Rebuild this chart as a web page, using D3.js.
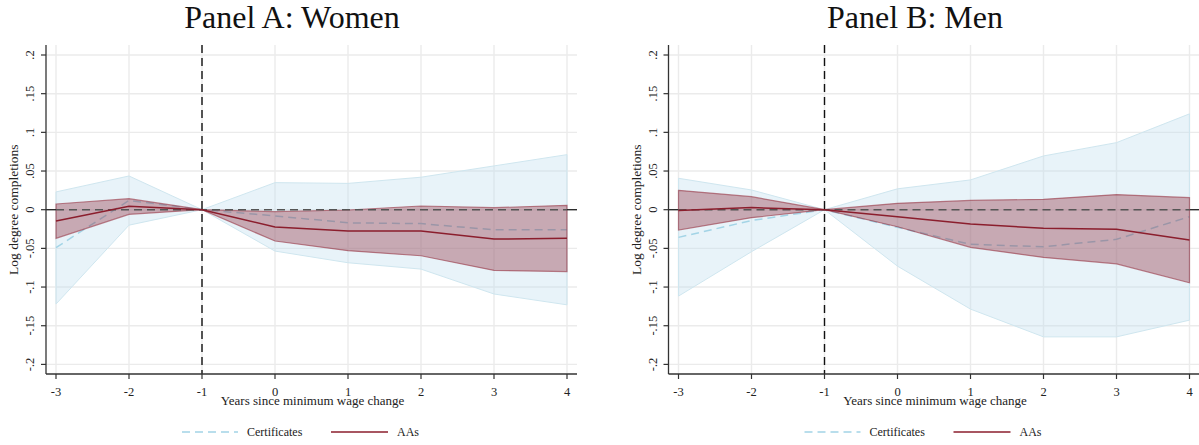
<!DOCTYPE html>
<html>
<head>
<meta charset="utf-8">
<script src="https://cdn.jsdelivr.net/npm/d3@7"></script>
<style>
  body { margin: 0; background: #fff; }
  svg { display: block; }
</style>
</head>
<body>
<div id="chart"></div>
<script>
// Event-time values.
const years = [-3, -2, -1, 0, 1, 2, 3, 4];
const yTicks = [-0.2, -0.15, -0.1, -0.05, 0, 0.05, 0.1, 0.15, 0.2];
const yTickLabels = ["-.2", "-.15", "-.1", "-.05", "0", ".05", ".1", ".15", ".2"];
const panelTitles = ["Panel A: Women", "Panel B: Men"];
const seriesNames = ["Certificates", "AAs"];

// Panel A: Women
const womenCertEst = [-0.049, 0.012, 0, -0.008, -0.017, -0.018, -0.026, -0.026];
const womenCertLo = [-0.122, -0.020, 0, -0.0535, -0.0686, -0.0768, -0.109, -0.123];
const womenCertHi = [0.023, 0.0436, 0, 0.035, 0.034, 0.042, 0.0566, 0.0712];
const womenAAEst = [-0.0146, 0.0044, 0, -0.0224, -0.0276, -0.0276, -0.038, -0.037];
const womenAALo = [-0.037, -0.006, 0, -0.0405, -0.053, -0.0595, -0.0785, -0.080];
const womenAAHi = [0.0074, 0.0143, 0, -0.0026, -0.0004, 0.0048, 0.0026, 0.0057];

// Panel B: Men
const menCertEst = [-0.0358, -0.014, 0, -0.0228, -0.0448, -0.0479, -0.0383, -0.009];
const menCertLo = [-0.1117, -0.0543, 0, -0.073, -0.1285, -0.1644, -0.1644, -0.1428];
const menCertHi = [0.0406, 0.0255, 0, 0.027, 0.0385, 0.0695, 0.0867, 0.1239];
const menAAEst = [-0.001, 0.0027, 0, -0.009, -0.0185, -0.024, -0.0254, -0.0392];
const menAALo = [-0.0263, -0.0103, 0, -0.022, -0.0487, -0.0617, -0.07, -0.0945];
const menAAHi = [0.025, 0.0168, 0, 0.0083, 0.012, 0.0134, 0.0195, 0.0156];

const width = 1199;
const height = 445;
const font = "'Liberation Serif', 'Times New Roman', serif";

const svg = d3.select("#chart")
  .append("svg")
  .attr("width", width)
  .attr("height", height)
  .attr("font-family", font);

/**
 * Draws one event-study panel.
 */
function drawPanel(offset, title, cert, aa, titleX) {
  const axisX = 46 + offset;
  const plotRight = 577 + offset;
  const plotTop = 45;
  const plotBottom = 374;

  const x = d3.scaleLinear().domain([-3, 4]).range([56 + offset, 567 + offset]);
  const y = d3.scaleLinear().domain([-0.2, 0.2]).range([364.4, 55]);

  const g = svg.append("g");

  // Grid lines.
  g.selectAll(".hgrid")
    .data(yTicks)
    .join("line")
    .attr("x1", axisX).attr("x2", plotRight)
    .attr("y1", (d) => y(d)).attr("y2", (d) => y(d))
    .attr("stroke", "#ebebeb").attr("stroke-width", 1.4);
  g.selectAll(".vgrid")
    .data(years)
    .join("line")
    .attr("x1", (d) => x(d)).attr("x2", (d) => x(d))
    .attr("y1", plotTop).attr("y2", plotBottom)
    .attr("stroke", "#ebebeb").attr("stroke-width", 1.4);

  const rows = years.map((yr, i) => ({
    yr,
    cEst: cert.est[i], cLo: cert.lo[i], cHi: cert.hi[i],
    aEst: aa.est[i], aLo: aa.lo[i], aHi: aa.hi[i],
  }));

  // Certificates band and line.
  g.append("path")
    .datum(rows)
    .attr("d", d3.area().x((d) => x(d.yr)).y0((d) => y(d.cLo)).y1((d) => y(d.cHi)))
    .attr("fill", "rgba(190,222,238,0.35)")
    .attr("stroke", "#cfe6ef")
    .attr("stroke-width", 1);
  g.append("path")
    .datum(rows)
    .attr("d", d3.line().x((d) => x(d.yr)).y((d) => y(d.cEst)))
    .attr("fill", "none")
    .attr("stroke", "#a3d4e6")
    .attr("stroke-width", 1.5)
    .attr("stroke-dasharray", "8,5");

  // AAs band and line.
  g.append("path")
    .datum(rows)
    .attr("d", d3.area().x((d) => x(d.yr)).y0((d) => y(d.aLo)).y1((d) => y(d.aHi)))
    .attr("fill", "rgba(140,40,55,0.36)")
    .attr("stroke", "rgba(150,50,65,0.6)")
    .attr("stroke-width", 1.2);

  // Zero line: solid outside the data range, dashed inside.
  g.append("line")
    .attr("x1", axisX).attr("x2", x(-3))
    .attr("y1", y(0)).attr("y2", y(0))
    .attr("stroke", "#222").attr("stroke-width", 1.3);
  g.append("line")
    .attr("x1", x(4)).attr("x2", plotRight)
    .attr("y1", y(0)).attr("y2", y(0))
    .attr("stroke", "#222").attr("stroke-width", 1.3);
  g.append("line")
    .attr("x1", x(-3)).attr("x2", x(4))
    .attr("y1", y(0)).attr("y2", y(0))
    .attr("stroke", "#555").attr("stroke-width", 1.4)
    .attr("stroke-dasharray", "8,5");

  g.append("path")
    .datum(rows)
    .attr("d", d3.line().x((d) => x(d.yr)).y((d) => y(d.aEst)))
    .attr("fill", "none")
    .attr("stroke", "#8b1e2d")
    .attr("stroke-width", 1.5);

  // Vertical reference line at -1.
  g.append("line")
    .attr("x1", x(-1)).attr("x2", x(-1))
    .attr("y1", plotTop).attr("y2", plotBottom)
    .attr("stroke", "#111").attr("stroke-width", 1.4)
    .attr("stroke-dasharray", "8,5");

  // Axes.
  g.append("line")
    .attr("x1", axisX).attr("x2", axisX)
    .attr("y1", plotTop).attr("y2", plotBottom)
    .attr("stroke", "#333").attr("stroke-width", 1.3);
  g.append("line")
    .attr("x1", axisX).attr("x2", plotRight)
    .attr("y1", plotBottom).attr("y2", plotBottom)
    .attr("stroke", "#333").attr("stroke-width", 1.3);

  g.selectAll(".ytick")
    .data(yTicks)
    .join("line")
    .attr("x1", axisX - 5).attr("x2", axisX)
    .attr("y1", (d) => y(d)).attr("y2", (d) => y(d))
    .attr("stroke", "#333").attr("stroke-width", 1.2);
  g.selectAll(".ylab")
    .data(yTicks)
    .join("text")
    .attr("transform", (d) => `translate(${axisX - 12},${y(d)}) rotate(-90)`)
    .attr("text-anchor", "middle")
    .attr("font-size", 12.5)
    .attr("fill", "#222")
    .text((d, i) => yTickLabels[i]);

  g.selectAll(".xtick")
    .data(years)
    .join("line")
    .attr("x1", (d) => x(d)).attr("x2", (d) => x(d))
    .attr("y1", plotBottom).attr("y2", plotBottom + 5)
    .attr("stroke", "#333").attr("stroke-width", 1.2);
  g.selectAll(".xlab")
    .data(years)
    .join("text")
    .attr("x", (d) => x(d))
    .attr("y", 396)
    .attr("text-anchor", "middle")
    .attr("font-size", 12.5)
    .attr("fill", "#222")
    .text((d) => d);

  // Axis titles.
  g.append("text")
    .attr("x", (axisX + plotRight) / 2 + 1)
    .attr("y", 405)
    .attr("text-anchor", "middle")
    .attr("font-size", 13)
    .attr("fill", "#222")
    .text("Years since minimum wage change");
  g.append("text")
    .attr("transform", `translate(${axisX - 28},${y(0)}) rotate(-90)`)
    .attr("text-anchor", "middle")
    .attr("font-size", 13.5)
    .attr("fill", "#222")
    .text("Log degree completions");

  // Panel title.
  g.append("text")
    .attr("x", titleX)
    .attr("y", 28)
    .attr("text-anchor", "middle")
    .attr("font-size", 32)
    .attr("fill", "#111")
    .text(title);

  // Legend.
  const ly = 432;
  const lx = 182 + offset;
  g.append("line")
    .attr("x1", lx).attr("x2", lx + 56)
    .attr("y1", ly).attr("y2", ly)
    .attr("stroke", "#a3d4e6").attr("stroke-width", 1.5)
    .attr("stroke-dasharray", "8,5");
  g.append("text")
    .attr("x", lx + 65).attr("y", ly + 4)
    .attr("font-size", 12)
    .attr("fill", "#222")
    .text(seriesNames[0]);
  g.append("line")
    .attr("x1", lx + 149).attr("x2", lx + 206)
    .attr("y1", ly).attr("y2", ly)
    .attr("stroke", "#8b1e2d").attr("stroke-width", 1.5);
  g.append("text")
    .attr("x", lx + 215).attr("y", ly + 4)
    .attr("font-size", 12)
    .attr("fill", "#222")
    .text(seriesNames[1]);
}

drawPanel(0, panelTitles[0],
  { est: womenCertEst, lo: womenCertLo, hi: womenCertHi },
  { est: womenAAEst, lo: womenAALo, hi: womenAAHi }, 292);
drawPanel(622.5, panelTitles[1],
  { est: menCertEst, lo: menCertLo, hi: menCertHi },
  { est: menAAEst, lo: menAALo, hi: menAAHi }, 915);
</script>
</body>
</html>
